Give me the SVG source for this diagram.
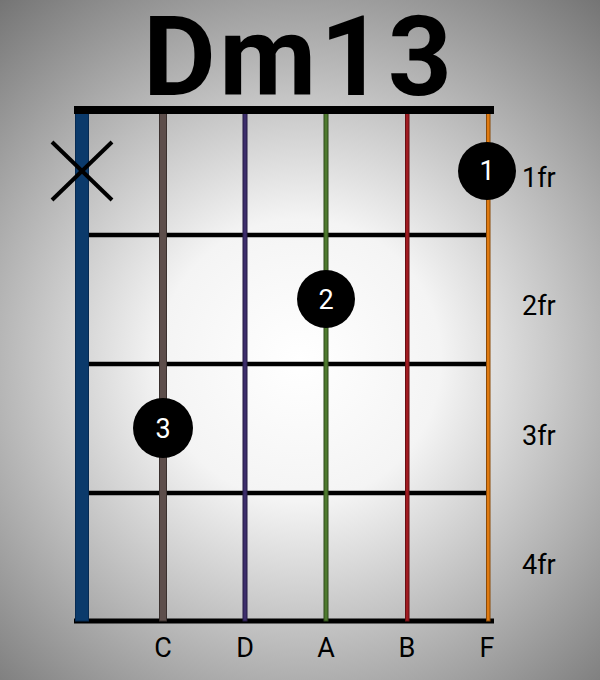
<svg xmlns="http://www.w3.org/2000/svg" width="600" height="680" viewBox="0 0 600 680">
<defs>
<radialGradient id="bg" cx="300" cy="360" r="470" gradientUnits="userSpaceOnUse">
<stop offset="0" stop-color="#ffffff"/>
<stop offset="0.3" stop-color="#f4f4f4"/>
<stop offset="1" stop-color="#747474"/>
</radialGradient>
<style>
.fret{stroke:#000;stroke-width:4.5}
.dot{fill:#000}
.dt{fill:#fff;font-family:Roboto,"Liberation Sans",sans-serif;font-size:27px;text-anchor:middle}
.lbl{fill:#000;font-family:Roboto,"Liberation Sans",sans-serif;font-size:27px}
.nl{text-anchor:middle}
</style>
</defs>
<rect width="600" height="680" fill="url(#bg)"/>
<text x="143" y="95" font-family="Roboto,'Liberation Sans',sans-serif" font-weight="bold" font-size="112" textLength="309" lengthAdjust="spacing">Dm13</text>
<g id="frets">
<line class="fret" x1="89" y1="235" x2="488" y2="235"/>
<line class="fret" x1="89" y1="364" x2="488" y2="364"/>
<line class="fret" x1="89" y1="493" x2="488" y2="493"/>
<line x1="74" y1="621" x2="494" y2="621" stroke="#000" stroke-width="5"/>
</g>
<g id="strings">
<rect x="75.5" y="113" width="13" height="508" fill="#0b3a6b" stroke="#062a52" stroke-width="1"/>
<rect x="159.5" y="113" width="7" height="508" fill="#5d4e4b" stroke="#3a302e" stroke-width="1"/>
<rect x="243" y="113" width="4" height="508" fill="#3c2d6b" stroke="#241a44" stroke-width="1"/>
<rect x="324" y="113" width="4" height="508" fill="#4e7a2e" stroke="#2e4a1a" stroke-width="1"/>
<rect x="405.5" y="113" width="3.5" height="508" fill="#a01a20" stroke="#661014" stroke-width="1"/>
<rect x="486.5" y="113" width="3.5" height="508" fill="#e07a10" stroke="#8a4a08" stroke-width="1"/>
</g>
<rect id="nut" x="74" y="106" width="420" height="8" fill="#000"/>
<g id="mute" stroke="#000" stroke-width="4">
<line x1="52" y1="142" x2="112" y2="200"/>
<line x1="112" y1="142" x2="52" y2="200"/>
</g>
<g id="dot1"><circle class="dot" cx="487" cy="171" r="29"/><text class="dt" x="487" y="180">1</text></g>
<g id="dot2"><circle class="dot" cx="326" cy="299" r="29"/><text class="dt" x="326" y="309">2</text></g>
<g id="dot3"><circle class="dot" cx="163" cy="428" r="30"/><text class="dt" x="163" y="438">3</text></g>
<g id="fretlabels">
<text class="lbl" x="522" y="187">1fr</text>
<text class="lbl" x="522" y="315">2fr</text>
<text class="lbl" x="522" y="445">3fr</text>
<text class="lbl" x="522" y="574">4fr</text>
</g>
<g id="notes">
<text class="lbl nl" x="163" y="657">C</text>
<text class="lbl nl" x="245" y="657">D</text>
<text class="lbl nl" x="326" y="657">A</text>
<text class="lbl nl" x="407" y="657">B</text>
<text class="lbl nl" x="487" y="657">F</text>
</g>
</svg>
